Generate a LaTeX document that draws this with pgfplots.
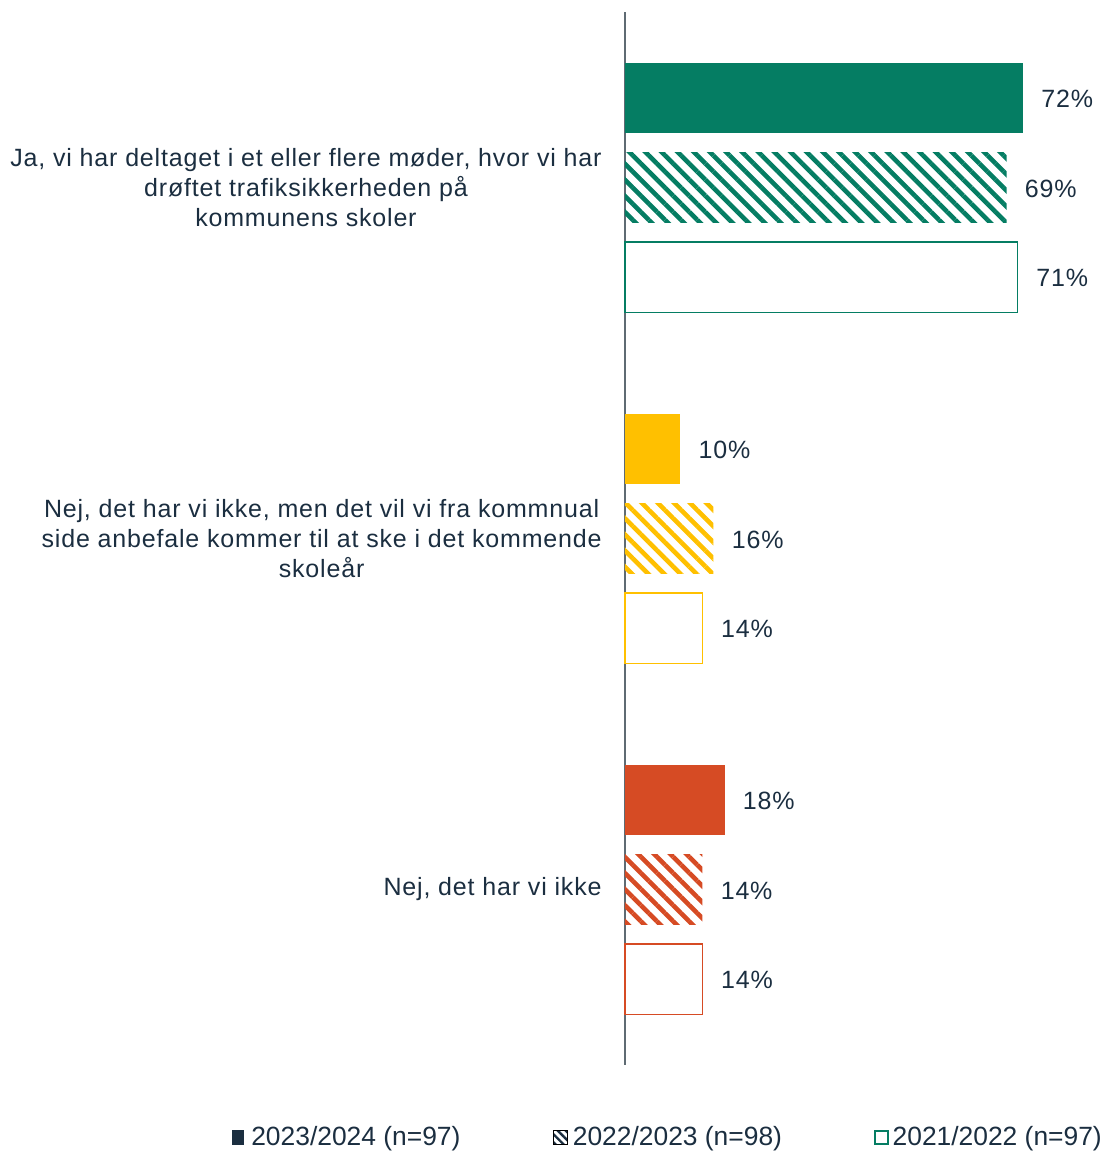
\documentclass[border=0pt]{standalone}
\usepackage{fontspec}
\setmainfont{Liberation Sans}[LetterSpace=3.3]
\newfontfamily\legfont{Liberation Sans}[LetterSpace=0]
\usepackage{pgfplots}
\pgfplotsset{compat=1.18}
\usetikzlibrary{patterns.meta}

\definecolor{cgreen}{HTML}{057D63}
\definecolor{cyellow}{HTML}{FFC000}
\definecolor{cred}{HTML}{D64B24}
\definecolor{ctext}{HTML}{1B2E40}
\definecolor{caxis}{HTML}{5F6B73}

\pgfplotsset{
  s1/.style={xbar, bar width=0.2, bar shift=-0.256, fill=#1, draw=none, forget plot,
    every node near coord/.append style={yshift=44.9pt}},
  s2/.style={xbar, bar width=0.2, bar shift=0, draw=none, forget plot,
    pattern={Lines[angle=-45,distance=5.7pt,line width=2.3pt]}, pattern color=#1},
  s3/.style={xbar, bar width=0.2, bar shift=0.256, fill=white, draw=#1, line width=0.8pt, forget plot,
    every node near coord/.append style={yshift=-44.9pt}},
}

\begin{document}
\begin{tikzpicture}
\begin{axis}[
    scale only axis,
    width=235pt,
    height=526.5pt,
    xmin=0, xmax=85,
    ymin=-0.5, ymax=2.5,
    y dir=reverse,
    axis x line=none,
    axis y line*=left,
    axis line style={-, caxis, line width=0.6pt},
    ytick={0,1,2},
    yticklabels={
      {Ja, vi har deltaget i et eller flere møder, hvor vi har\\drøftet trafiksikkerheden på\\kommunens skoler},
      {Nej, det har vi ikke, men det vil vi fra kommnual\\side anbefale kommer til at ske i det kommende\\skoleår},
      {Nej, det har vi ikke}},
    major tick length=0pt,
    yticklabel style={align=center, inner sep=0pt, xshift=-11.5pt, text=ctext,
      font=\fontsize{12.5}{15}\selectfont},
    clip=false,
    /pgf/number format/assume math mode=true,
    nodes near coords={\pgfmathprintnumber{\pgfplotspointmeta}\%},
    point meta=x,
    every node near coord/.append style={anchor=west, inner sep=0pt, xshift=9pt, yshift=-0.5pt,
      text=ctext, font=\fontsize{12.5}{15}\selectfont},
    legend style={draw=none, fill=none, at={(rel axis cs:0.094,-0.069)}, anchor=center,
      legend columns=3, /tikz/every even column/.append style={column sep=44pt},
      font=\legfont\fontsize{13.2}{15}\selectfont, text=ctext, inner sep=0pt},
    legend cell align=left,
]
\addlegendimage{legend image code/.code={\fill[ctext] (1pt,-3.5pt) rectangle (6.5pt,3.5pt);}}
\addlegendentry{\hspace{1.5pt}2023/2024 (n=97)}
\addlegendimage{legend image code/.code={\fill[pattern={Lines[angle=-45,distance=2.8pt,line width=1.2pt]}, pattern color=ctext] (0pt,-3.5pt) rectangle (7pt,3.5pt);}}
\addlegendentry{2022/2023 (n=98)}
\addlegendimage{legend image code/.code={\draw[cgreen, line width=0.8pt] (0pt,-3.3pt) rectangle (6.5pt,3.3pt);}}
\addlegendentry{2021/2022 (n=97)}

\addplot[s1=cgreen] coordinates {(72,0)};
\addplot[s2=cgreen] coordinates {(69,0)};
\addplot[s3=cgreen] coordinates {(71,0)};
\addplot[s1=cyellow] coordinates {(10,1)};
\addplot[s2=cyellow] coordinates {(16,1)};
\addplot[s3=cyellow] coordinates {(14,1)};
\addplot[s1=cred] coordinates {(18,2)};
\addplot[s2=cred] coordinates {(14,2)};
\addplot[s3=cred] coordinates {(14,2)};
\end{axis}
\pgfresetboundingbox
\path[use as bounding box] ([xshift=-312.5pt, yshift=-43pt]current axis.south west)
  rectangle ([xshift=3pt, yshift=6pt]current axis.north east);
\end{tikzpicture}
\end{document}
